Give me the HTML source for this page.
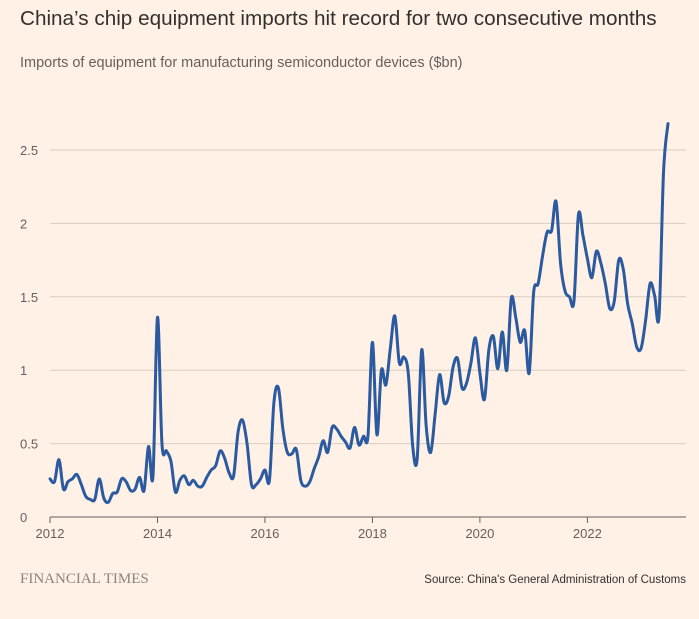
<!DOCTYPE html>
<html><head><meta charset="utf-8"><style>
html,body{margin:0;padding:0;background:#fff1e5;}
body{width:699px;height:614px;overflow:hidden;font-family:"Liberation Sans",sans-serif;}
</style></head><body>
<svg width="699" height="614" xmlns="http://www.w3.org/2000/svg">
<rect width="699" height="614" fill="#fff1e5"/>
<text x="20" y="25" font-size="20.7" fill="#33302e">China’s chip equipment imports hit record for two consecutive months</text>
<text x="20" y="67" font-size="14.5" fill="#66605c">Imports of equipment for manufacturing semiconductor devices ($bn)</text>
<g id="grid"></g>
<g id="yt"></g>
<g id="xt"></g>
<path id="line" fill="none" stroke="#2b5aa0" stroke-width="3" stroke-linejoin="round" stroke-linecap="round"/>
<text x="20" y="583" font-family="Liberation Serif,serif" font-size="15" fill="#8a8580">FINANCIAL TIMES</text>
<text x="686" y="583" font-size="11.5" fill="#33302e" text-anchor="end">Source: China's General Administration of Customs</text>
</svg>
<script>
const values=[0.26,0.24,0.39,0.19,0.24,0.26,0.29,0.22,0.14,0.12,0.12,0.26,
0.13,0.10,0.16,0.17,0.26,0.24,0.18,0.19,0.27,0.18,0.48,0.28,
1.36,0.50,0.45,0.38,0.17,0.25,0.28,0.22,0.25,0.21,0.21,0.27,
0.32,0.35,0.45,0.40,0.30,0.28,0.58,0.66,0.50,0.22,0.22,0.26,
0.32,0.25,0.78,0.88,0.60,0.44,0.43,0.46,0.25,0.21,0.24,0.33,
0.41,0.52,0.44,0.61,0.60,0.55,0.51,0.47,0.61,0.49,0.55,0.55,
1.19,0.56,1.00,0.90,1.15,1.37,1.05,1.09,0.98,0.48,0.40,1.14,
0.62,0.44,0.70,0.97,0.78,0.82,1.02,1.08,0.88,0.91,1.05,1.22,
0.98,0.80,1.14,1.23,1.01,1.26,1.00,1.49,1.36,1.19,1.27,0.98,
1.53,1.59,1.78,1.94,1.95,2.15,1.73,1.54,1.50,1.47,2.06,1.92,
1.76,1.63,1.81,1.73,1.59,1.42,1.47,1.75,1.69,1.45,1.32,1.16,
1.15,1.34,1.59,1.51,1.37,2.35,2.68];
const startYear=2012;
const yTicks=[0,0.5,1,1.5,2,2.5];
const yTickLabels=["0","0.5","1","1.5","2","2.5"];
const xTickYears=[2012,2014,2016,2018,2020,2022];
const NS="http://www.w3.org/2000/svg";
const X0=50,X1=668,Y0=517,YPER=146.8;
const xs=m=>X0+m*(X1-X0)/138;
const ys=v=>Y0-v*YPER;
const grid=document.getElementById('grid'),yt=document.getElementById('yt'),xt=document.getElementById('xt');
yTicks.forEach((t,i)=>{
 if(t!==0){const l=document.createElementNS(NS,'line');
 l.setAttribute('x1',X0);l.setAttribute('x2',686);l.setAttribute('y1',ys(t));l.setAttribute('y2',ys(t));
 l.setAttribute('stroke','#d9cdc1');l.setAttribute('stroke-width','1');
 
 
 grid.appendChild(l);}
 const tx=document.createElementNS(NS,'text');
 tx.setAttribute('x',20);tx.setAttribute('y',ys(t)+5);tx.setAttribute('font-size','13');tx.setAttribute('fill','#66605c');
 tx.textContent=yTickLabels[i];
 
 
 yt.appendChild(tx);
});
const base=document.createElementNS(NS,'line');
base.setAttribute('x1',X0);base.setAttribute('x2',686);base.setAttribute('y1',Y0);base.setAttribute('y2',Y0);
base.setAttribute('stroke','#66605c');base.setAttribute('stroke-width','1');


xt.appendChild(base);
xTickYears.forEach(y=>{
 const x=xs((y-startYear)*12);
 const l=document.createElementNS(NS,'line');
 l.setAttribute('x1',x);l.setAttribute('x2',x);l.setAttribute('y1',Y0);l.setAttribute('y2',Y0+6);
 l.setAttribute('stroke','#66605c');
 
 
 xt.appendChild(l);
 const tx=document.createElementNS(NS,'text');
 tx.setAttribute('x',x);tx.setAttribute('y',Y0+21);tx.setAttribute('font-size','13');tx.setAttribute('fill','#66605c');tx.setAttribute('text-anchor','middle');
 tx.textContent=y;
 
 
 xt.appendChild(tx);
});
const pts=values.map((v,i)=>[xs(i),ys(v)]);
let d='M'+pts[0][0]+','+pts[0][1];
for(let i=0;i<pts.length-1;i++){
 const p0=pts[Math.max(0,i-1)],p1=pts[i],p2=pts[i+1],p3=pts[Math.min(pts.length-1,i+2)];
 const t=6;
 const c1=[p1[0]+(p2[0]-p0[0])/t,p1[1]+(p2[1]-p0[1])/t];
 const c2=[p2[0]-(p3[0]-p1[0])/t,p2[1]-(p3[1]-p1[1])/t];
 d+=` C${c1[0]},${c1[1]} ${c2[0]},${c2[1]} ${p2[0]},${p2[1]}`;
}
document.getElementById('line').setAttribute('d',d);
</script>
</body></html>
